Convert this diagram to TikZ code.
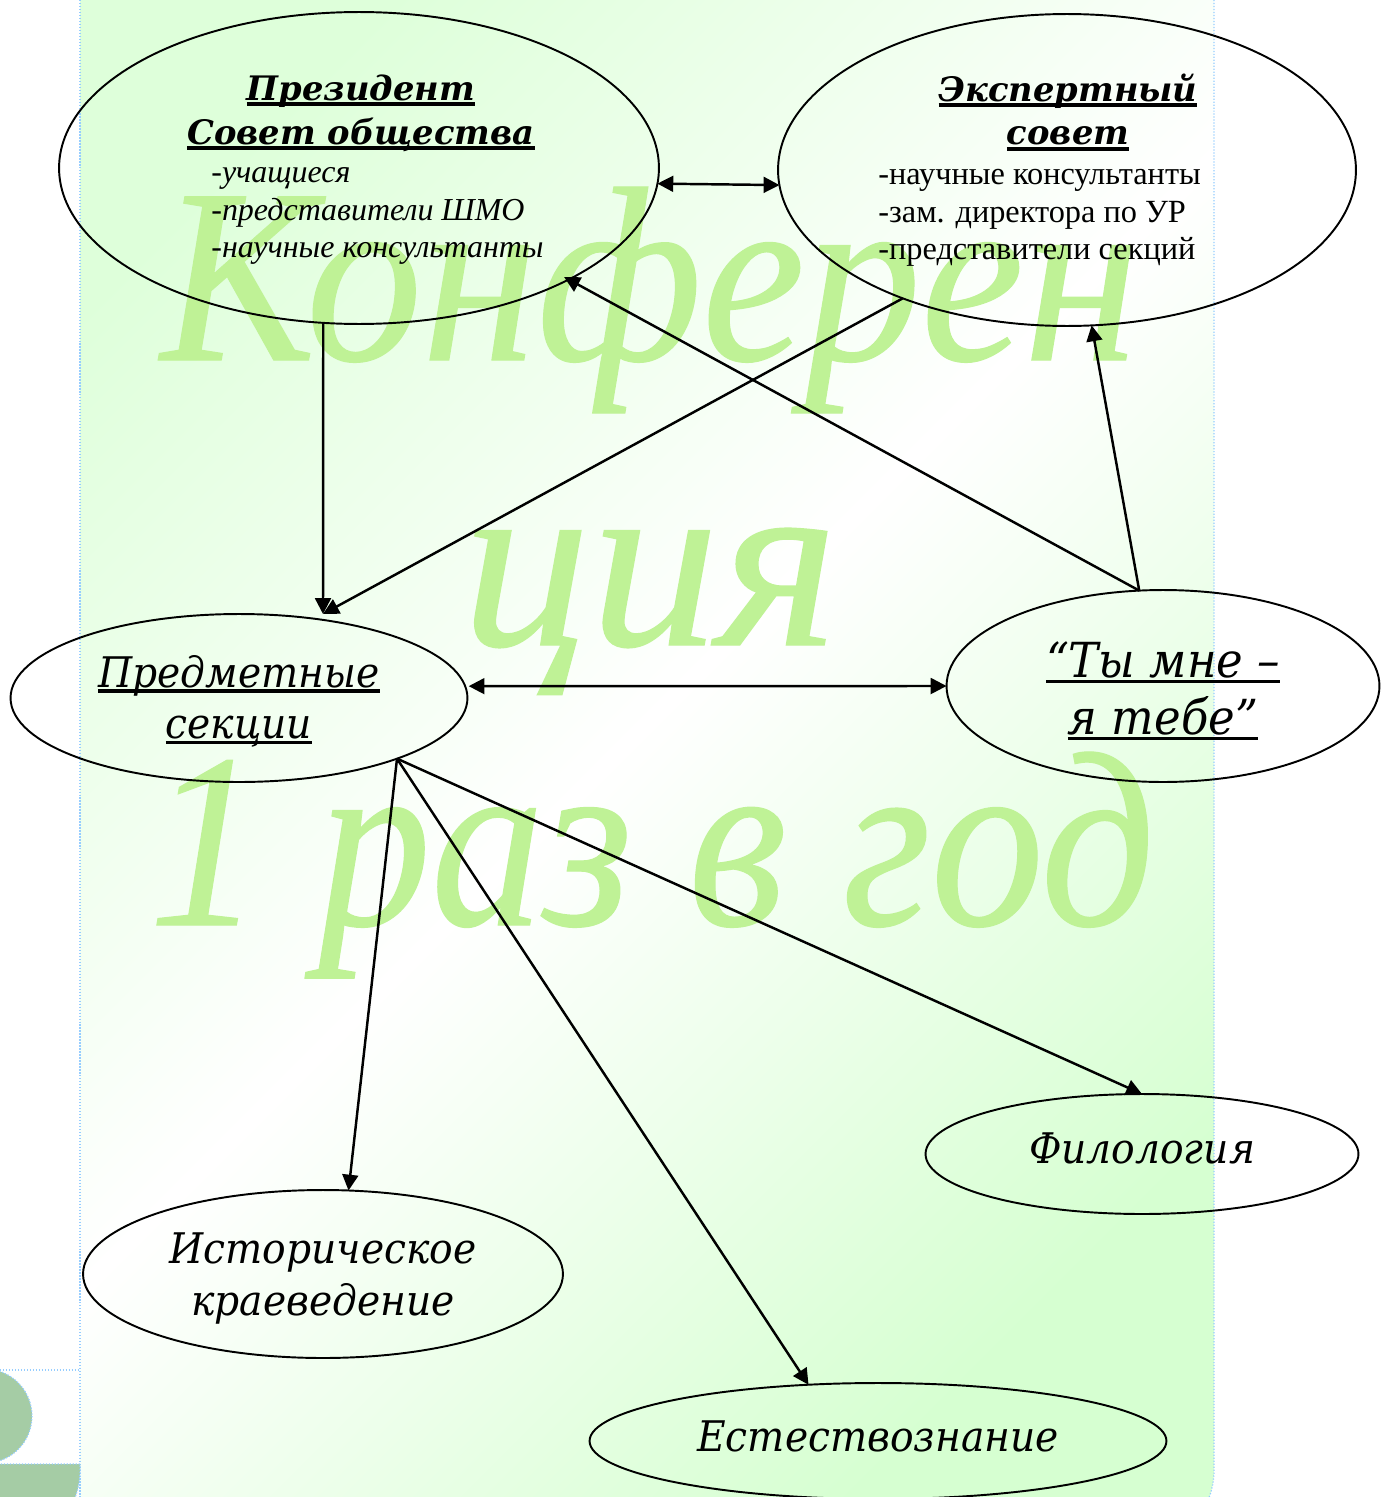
\documentclass[tikz,border=0pt]{standalone}
\usepackage{fontspec}
\usepackage{graphicx}
\usetikzlibrary{shapes.geometric,arrows.meta}
\setmainfont{Liberation Serif}
\newfontfamily\headfont{DejaVu Serif}
\newfontfamily\bigfont[FakeStretch=0.93]{DejaVu Serif}
\newfontfamily\markfont[FakeBold=0.5]{Liberation Serif}
\definecolor{markgreen}{RGB}{191,242,150}
\definecolor{pagegreen}{RGB}{222,255,218}
\definecolor{pagegreenb}{RGB}{214,255,209}
\definecolor{edgeblue}{RGB}{150,205,255}
\definecolor{blockgreen}{RGB}{165,204,165}
\newcommand{\ulin}[2][2pt]{\setbox0=\hbox{#2}\leavevmode\rlap{\rule[-3.2pt]{\wd0}{#1}}\box0}
\begin{document}
\begin{tikzpicture}
    [x=0.02cm,y=-0.02cm,
     oval/.style={shape=ellipse,draw=black,line width=1.1pt,inner sep=0pt,outer sep=0pt,align=center},
     post/.style={->,>={Triangle[length=9pt,width=9pt]},line width=1.4pt},
     both/.style={<->,>={Triangle[length=9pt,width=9pt]},line width=1.4pt},
     big/.style={font=\bigfont\itshape\fontsize{24}{29.5}\selectfont},
     bigger/.style={font=\bigfont\itshape\fontsize{27.5}{32.5}\selectfont},
     title/.style={font=\headfont\bfseries\itshape\fontsize{19.2}{25}\selectfont,align=center},
     backword/.style={font=\markfont\itshape\fontsize{142}{142}\selectfont,text=markgreen,inner sep=0pt,anchor=base},
     rim/.style={draw=edgeblue,densely dotted,line width=0.7pt}]
    \useasboundingbox (0,0) rectangle (1390,1497);
    \clip (0,0) rectangle (1390,1497);
    % page behind the scheme
    \shade [top color=pagegreen,bottom color=pagegreenb,middle color=white,shading angle=45]
      (80,-100) -- (1214,-100) -- (1214,1470) .. controls (1214,1514) and (1178,1550) .. (1134,1550) -- (80,1550) -- cycle;
    \draw [rim] (80,0) -- (80,1497);
    \draw [rim] (1214,0) -- (1214,1470) .. controls (1214,1514) and (1178,1550) .. (1134,1550);
    \draw [rim,fill=blockgreen] (-15,1416) circle (47);
    \draw [rim,fill=blockgreen] (-5,1464) -- (80,1464) -- (80,1470) .. controls (80,1514) and (44,1550) .. (0,1550) -- (-5,1550) -- cycle;
    \draw [rim] (0,1370) -- (80,1370);
    % big lettering
    \node [backword] (wma) at (650,360) {\scalebox{0.93}[1]{Конферен}};
    \node [backword] (wmb) at (650,645) {\scalebox{1.03}[1]{ция}};
    \node [backword] (wmc) at (652,925) {\scalebox{0.905}[1]{1 раз в год}};
    % upper row
    \node [oval,minimum width=12cm,minimum height=6.24cm] (pres) at (359,168) {};
    \node [title] (prestitle) at (361,113) {\ulin{Президент}\\\ulin{Совет общества}};
    \node [anchor=west,align=left,inner sep=0pt,font=\itshape\fontsize{18.2}{21.4}\selectfont] (preslist) at (211,216)
      {-учащиеся\\-представители ШМО\\-научные консультанты};
    \node [oval,minimum width=11.56cm,minimum height=6.24cm] (expert) at (1067,170) {};
    \node [title] (experttitle) at (1068,112) {\ulin{Экспертный}\\\ulin{совет}};
    \node [anchor=west,align=left,inner sep=0pt,font=\fontsize{18.4}{21.4}\selectfont] (expertlist) at (878,218)
      {-научные консультанты\\-зам. директора по УР\\-представители секций};
    % middle row
    \node [oval,big,minimum width=9.14cm,minimum height=3.36cm] (sect) at (239,698)
      {\rule{0pt}{22pt}\ulin{Предметные}\\\ulin{секции}};
    \node [oval,bigger,minimum width=8.66cm,minimum height=3.84cm] (swap) at (1163,686)
      {\rule{0pt}{26pt}\ulin[1.6pt]{“Ты мне –}\\\ulin[1.6pt]{я тебе”}};
    \coordinate (sectin) at (323,614);
    % lower row
    \node [oval,big,minimum width=8.66cm,minimum height=2.4cm,text depth=7pt] (philo) at (1142,1154) {Филология};
    \node [oval,big,minimum width=9.6cm,minimum height=3.36cm] (hist) at (323,1274) {\rule{0pt}{23pt}Историческое\\краеведение};
    \node [oval,big,minimum width=11.54cm,minimum height=2.32cm,text depth=5pt] (nature) at (878,1441) {Естествознание};
    % links
    \draw [both] (pres.-3.1) -- (expert.183.1);
    \draw [both,shorten <=2pt] (sect.3.6) -- (swap.180);
    \draw [post] (pres.257) -- (sectin);
    \draw [post] (expert.218.3) -- (sectin);
    \draw [post] (swap.104) -- (expert.279);
    \draw [post,shorten >=-3pt] (swap.104) -- (pres.-28.1);
    \draw [post] (sect.-21.2) -- (hist.73.4);
    \draw [post] (sect.-21.2) -- (nature.141);
    \draw [post] (sect.-21.2) -- (philo.90);
\end{tikzpicture}
\end{document}
